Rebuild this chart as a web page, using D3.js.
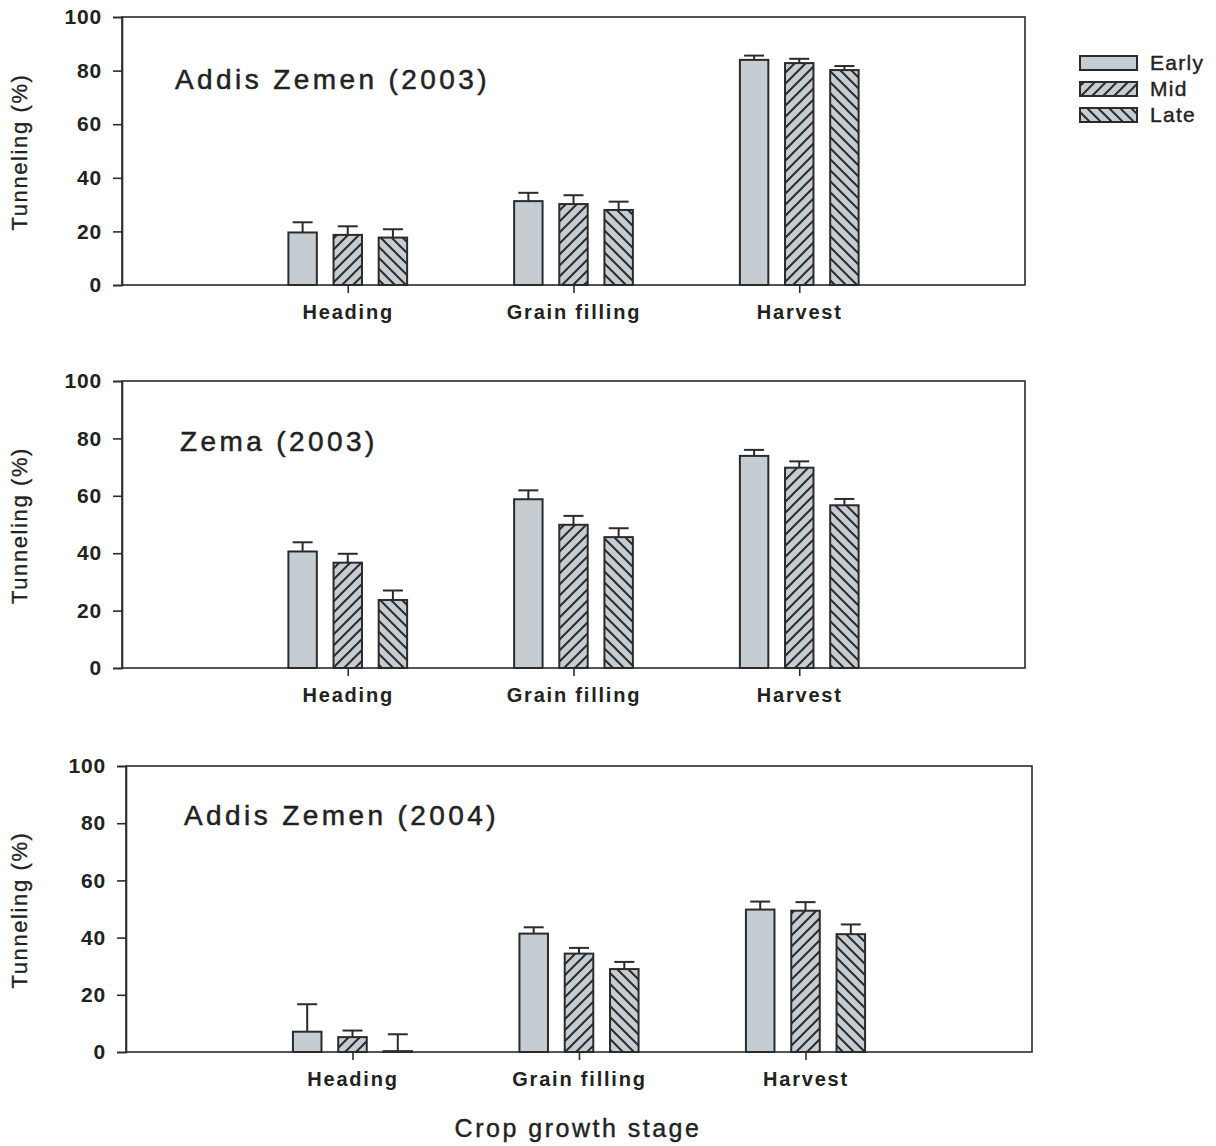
<!DOCTYPE html>
<html>
<head>
<meta charset="utf-8">
<script src="https://cdn.jsdelivr.net/npm/d3@7"></script>
<style>
  body { margin: 0; background: #fff; }
  svg { display: block; }
  text { font-family: "Liberation Sans", Arial, sans-serif; fill: #222; }
</style>
</head>
<body>
<svg id="chart" width="1216" height="1146"></svg>
<script>
// Crop growth stages and planting dates
const stages = ["Heading", "Grain filling", "Harvest"];
const timings = ["Early", "Mid", "Late"];
const yTicks = [0, 20, 40, 60, 80, 100];

// Stem tunneling (%) — means by planting date, one value per stage
const az03Early = [19.6, 31.3, 84.0];
const az03Mid   = [18.7, 30.2, 82.8];
const az03Late  = [17.7, 28.0, 80.2];
const az03EarlySE = [3.8, 3.1, 1.6];
const az03MidSE   = [3.2, 3.3, 1.6];
const az03LateSE  = [3.1, 3.1, 1.5];

const zema03Early = [40.6, 58.8, 73.9];
const zema03Mid   = [36.7, 49.9, 69.8];
const zema03Late  = [23.7, 45.6, 56.7];
const zema03EarlySE = [3.2, 3.1, 2.1];
const zema03MidSE   = [3.1, 3.1, 2.2];
const zema03LateSE  = [3.3, 3.1, 2.2];

const az04Early = [7.1, 41.4, 49.8];
const az04Mid   = [5.2, 34.4, 49.4];
const az04Late  = [0.3, 29.0, 41.2];
const az04EarlySE = [9.6, 2.2, 2.8];
const az04MidSE   = [2.3, 2.0, 3.0];
const az04LateSE  = [5.9, 2.5, 3.4];

const panels = [
  { title: "Addis Zemen (2003)", means: [az03Early, az03Mid, az03Late], se: [az03EarlySE, az03MidSE, az03LateSE],
    box: { left: 122, right: 1025, top: 17, bottom: 285 }, titleX: 175, titleY: 89 },
  { title: "Zema (2003)", means: [zema03Early, zema03Mid, zema03Late], se: [zema03EarlySE, zema03MidSE, zema03LateSE],
    box: { left: 122, right: 1025, top: 381, bottom: 668 }, titleX: 180, titleY: 451 },
  { title: "Addis Zemen (2004)", means: [az04Early, az04Mid, az04Late], se: [az04EarlySE, az04MidSE, az04LateSE],
    box: { left: 126, right: 1032, top: 766, bottom: 1052 }, titleX: 184, titleY: 825 }
];

const ink = "#2b2b2b";
const barFill = "#c6cdd2";
const fontStack = "'Liberation Sans', Arial, sans-serif";

const svg = d3.select("#chart");
const defs = svg.append("defs");

// Hatch patterns: forward diagonal for Mid, back diagonal for Late
function hatch(id, dir) {
  const s = 11;
  const p = defs.append("pattern")
    .attr("id", id)
    .attr("patternUnits", "userSpaceOnUse")
    .attr("width", s).attr("height", s);
  p.append("rect").attr("width", s).attr("height", s).attr("fill", barFill);
  const d = dir > 0
    ? `M-2,${s + 2} L${s + 2},-2 M-2,2 L2,-2 M${s - 2},${s + 2} L${s + 2},${s - 2}`
    : `M-2,-2 L${s + 2},${s + 2} M-2,${s - 2} L2,${s + 2} M${s - 2},-2 L${s + 2},2`;
  p.append("path").attr("d", d).attr("stroke", ink).attr("stroke-width", 2).attr("fill", "none");
}
hatch("hMid", 1);
hatch("hLate", -1);
const fills = [barFill, "url(#hMid)", "url(#hLate)"];

panels.forEach(pn => {
  const b = pn.box;
  const x = d3.scalePoint().domain(stages).range([b.left, b.right]).padding(1);
  const step = x.step();
  const offset = d3.scalePoint().domain(timings).range([-0.2 * step, 0.2 * step]);
  const barW = 0.126 * step;
  const y = d3.scaleLinear().domain([0, 100]).range([b.bottom, b.top]);

  const g = svg.append("g");

  // frame
  g.append("rect")
    .attr("x", b.left).attr("y", b.top)
    .attr("width", b.right - b.left).attr("height", b.bottom - b.top)
    .attr("fill", "none").attr("stroke", ink).attr("stroke-width", 1.6);

  // y axis
  const ya = g.append("g").attr("transform", `translate(${b.left},0)`)
    .call(d3.axisLeft(y).tickValues(yTicks).tickSize(9).tickPadding(11));
  ya.select(".domain").attr("stroke", ink).attr("stroke-width", 1.6);
  ya.selectAll(".tick line").attr("stroke", ink).attr("stroke-width", 1.6);
  ya.selectAll(".tick text")
    .attr("font-size", 21).attr("font-weight", "bold").attr("letter-spacing", 0.8)
    .attr("font-family", fontStack).attr("fill", "#222");

  // x axis
  const xa = g.append("g").attr("transform", `translate(0,${b.bottom})`)
    .call(d3.axisBottom(x).tickSize(8).tickPadding(12));
  xa.select(".domain").remove();
  xa.selectAll(".tick line").attr("stroke", ink).attr("stroke-width", 1.6);
  xa.selectAll(".tick text")
    .attr("font-size", 20).attr("font-weight", "bold").attr("letter-spacing", 1.8)
    .attr("font-family", fontStack).attr("fill", "#222");

  // bars with upper error bars
  timings.forEach((t, ti) => {
    stages.forEach((s, si) => {
      const cx = x(s) + offset(t);
      const v = pn.means[ti][si];
      const top = v + pn.se[ti][si];
      g.append("line")
        .attr("x1", cx).attr("x2", cx).attr("y1", y(v)).attr("y2", y(top))
        .attr("stroke", ink).attr("stroke-width", 2);
      g.append("line")
        .attr("x1", cx - 10).attr("x2", cx + 10).attr("y1", y(top)).attr("y2", y(top))
        .attr("stroke", ink).attr("stroke-width", 2);
      g.append("rect")
        .attr("x", cx - barW / 2).attr("y", y(v))
        .attr("width", barW).attr("height", y(0) - y(v))
        .attr("fill", fills[ti]).attr("stroke", ink).attr("stroke-width", 2);
    });
  });

  // panel title
  g.append("text")
    .attr("x", pn.titleX).attr("y", pn.titleY)
    .attr("font-size", 28).attr("letter-spacing", 3.4)
    .attr("stroke", "#222").attr("stroke-width", 0.5)
    .text(pn.title);

  // y axis title
  g.append("text")
    .attr("transform", `translate(27,${(b.top + b.bottom) / 2 + 1}) rotate(-90)`)
    .attr("text-anchor", "middle")
    .attr("font-size", 22).attr("letter-spacing", 1.6)
    .attr("stroke", "#222").attr("stroke-width", 0.3)
    .text("Tunneling (%)");
});

// x axis title
svg.append("text")
  .attr("x", 578).attr("y", 1137)
  .attr("text-anchor", "middle")
  .attr("font-size", 25).attr("letter-spacing", 2.5)
  .attr("stroke", "#222").attr("stroke-width", 0.4)
  .text("Crop growth stage");

// legend
const legend = svg.append("g");
timings.forEach((t, i) => {
  const ly = 56 + i * 26;
  legend.append("rect")
    .attr("x", 1080).attr("y", ly).attr("width", 57).attr("height", 14)
    .attr("fill", fills[i]).attr("stroke", ink).attr("stroke-width", 2);
  legend.append("text")
    .attr("x", 1150).attr("y", ly + 14)
    .attr("font-size", 21).attr("letter-spacing", 1.3)
    .attr("stroke", "#222").attr("stroke-width", 0.4)
    .text(t);
});
</script>
</body>
</html>
